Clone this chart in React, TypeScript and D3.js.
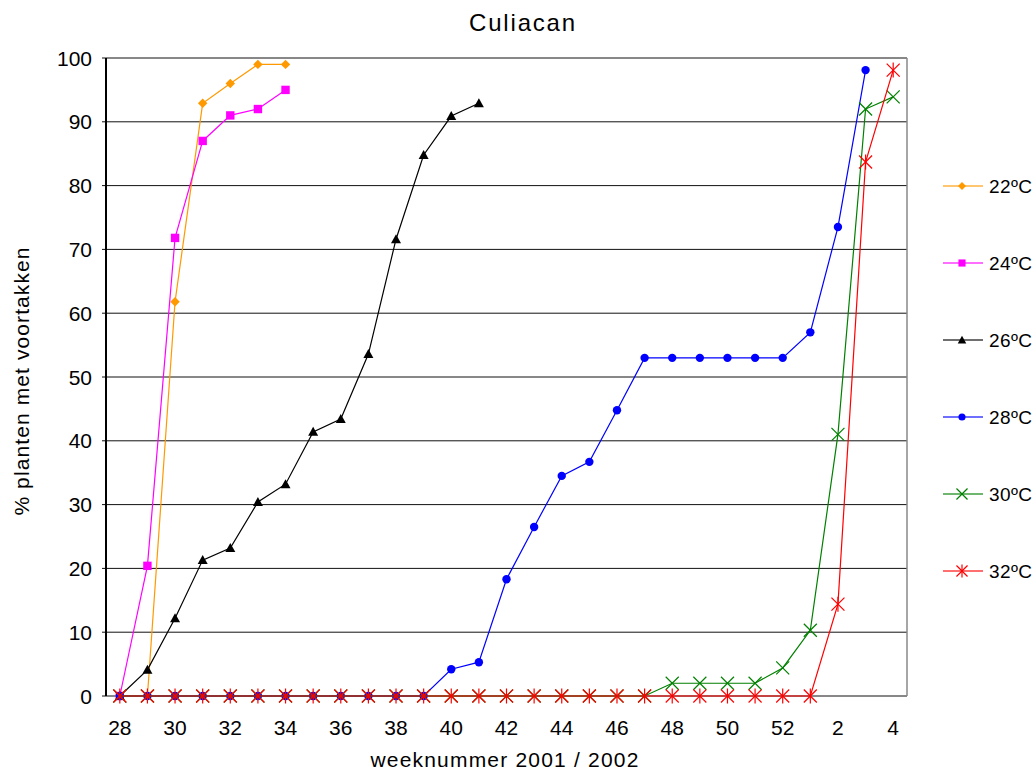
import React from 'react';
import * as d3 from 'd3';

const width = 1036;
const height = 774;
const plotLeft = 106;
const plotRight = 907;
const plotTop = 58;
const plotBottom = 696;
const fontFamily = '"Liberation Sans", Arial, sans-serif';

// week numbers, summer 2001 up to week 4 of 2002
const weeks = [
  '28', '29', '30', '31', '32', '33', '34', '35', '36', '37', '38', '39', '40', '41',
  '42', '43', '44', '45', '46', '47', '48', '49', '50', '51', '52', '1', '2', '3', '4',
];
const xTickLabels = ['28', '30', '32', '34', '36', '38', '40', '42', '44', '46', '48', '50', '52', '2', '4'];
const yTicks = [0, 10, 20, 30, 40, 50, 60, 70, 80, 90, 100];

const temp22 = [0, 0, 61.8, 92.9, 96, 99, 99];
const temp24 = [0, 20.4, 71.8, 87, 91, 92, 95];
const temp26 = [0, 4.1, 12.2, 21.3, 23.2, 30.4, 33.2, 41.4, 43.4, 53.6, 71.6, 84.8, 90.9, 92.9];
const temp28 = [
  0, 0, 0, 0, 0, 0, 0, 0, 0, 0, 0, 0, 4.2, 5.3, 18.3, 26.5, 34.5, 36.7, 44.8,
  53, 53, 53, 53, 53, 53, 57, 73.5, 98.1,
];
const temp30 = [
  0, 0, 0, 0, 0, 0, 0, 0, 0, 0, 0, 0, 0, 0, 0, 0, 0, 0, 0, 0,
  2, 2, 2, 2, 4.4, 10.3, 41, 92, 93.9,
];
const temp32 = [
  0, 0, 0, 0, 0, 0, 0, 0, 0, 0, 0, 0, 0, 0, 0, 0, 0, 0, 0, 0,
  0, 0, 0, 0, 0, 0, 14.4, 83.7, 98.1,
];

const seriesNames = ['22ºC', '24ºC', '26ºC', '28ºC', '30ºC', '32ºC'];
const seriesValues = [temp22, temp24, temp26, temp28, temp30, temp32];
const seriesColors = ['#FF9900', '#FF00FF', '#000000', '#0000FF', '#008000', '#FF0000'];
const seriesMarkers = ['diamond', 'square', 'triangle', 'circle', 'x', 'star'];

const x = d3.scaleBand().domain(weeks).range([plotLeft, plotRight]).padding(0);
const y = d3.scaleLinear().domain([0, 100]).range([plotBottom, plotTop]);
const cx = (w) => x(w) + x.bandwidth() / 2;

const Marker = ({ type, color, px, py, s = 1 }) => {
  const t = `translate(${px},${py})`;
  if (type === 'diamond') {
    const r = 4.7 * s;
    return <path transform={t} d={`M0,${-r}L${r},0L0,${r}L${-r},0Z`} fill={color} />;
  }
  if (type === 'square') {
    const r = 4.2 * s;
    return <rect x={px - r} y={py - r} width={2 * r} height={2 * r} fill={color} />;
  }
  if (type === 'triangle') {
    const r = 5 * s;
    return <path transform={t} d={`M0,${-r}L${r},${r * 0.8}L${-r},${r * 0.8}Z`} fill={color} />;
  }
  if (type === 'circle') {
    return <circle cx={px} cy={py} r={4.2 * s} fill={color} />;
  }
  const r = 6.5 * s;
  return (
    <g transform={t} stroke={color} strokeWidth={1.2} fill="none">
      <line x1={-r} y1={-r} x2={r} y2={r} />
      <line x1={-r} y1={r} x2={r} y2={-r} />
      {type === 'star' && <line x1={0} y1={-r - 1} x2={0} y2={r + 1} />}
    </g>
  );
};

const line = d3.line()
  .x((d) => cx(d.week))
  .y((d) => y(d.value));

const App = () => (
  <svg
    width={width}
    height={height}
    style={{ position: 'absolute', left: 0, top: 0, background: '#fff' }}
    fontFamily={fontFamily}
  >
    <text x={523} y={31} textAnchor="middle" fontSize={24} letterSpacing={1.8} fill="#000">
      Culiacan
    </text>

    {/* grid lines and y ticks */}
    {yTicks.map((t) => (
      <g key={t}>
        <line x1={plotLeft - 4} x2={plotRight} y1={y(t)} y2={y(t)} stroke="#111" strokeWidth={1} />
        <text
          x={92}
          y={y(t)}
          dy="0.36em"
          textAnchor="end"
          fontSize={21}
          fill="#000"
        >
          {t}
        </text>
      </g>
    ))}
    <line x1={plotRight} x2={plotRight} y1={plotTop} y2={plotBottom} stroke="#888" strokeWidth={1.5} />
    <line x1={plotLeft} x2={plotLeft} y1={plotTop} y2={plotBottom} stroke="#000" strokeWidth={2} />

    {/* x labels */}
    {xTickLabels.map((w) => (
      <text
        key={w}
        x={cx(w)}
        y={735}
        textAnchor="middle"
        fontSize={21}
        fill="#000"
      >
        {w}
      </text>
    ))}
    <text x={505} y={767} textAnchor="middle" fontSize={21} letterSpacing={1.2} fill="#000">
      weeknummer 2001 / 2002
    </text>
    <text
      transform={`translate(29,${381}) rotate(-90)`}
      textAnchor="middle"
      fontSize={21}
      letterSpacing={1.1}
      fill="#000"
    >
      % planten met voortakken
    </text>

    {/* series */}
    {seriesValues.map((vals, i) => {
      const pts = vals.map((v, j) => ({ week: weeks[j], value: v }));
      return (
        <g key={seriesNames[i]}>
          <path d={line(pts)} fill="none" stroke={seriesColors[i]} strokeWidth={1.2} />
          {pts.map((p) => (
            <Marker
              key={p.week}
              type={seriesMarkers[i]}
              color={seriesColors[i]}
              px={cx(p.week)}
              py={y(p.value)}
            />
          ))}
        </g>
      );
    })}

    {/* legend */}
    {seriesNames.map((name, i) => {
      const ly = 186 + i * 77;
      return (
        <g key={name}>
          <line x1={943} x2={983} y1={ly} y2={ly} stroke={seriesColors[i]} strokeWidth={1.5} opacity={0.75} />
          <Marker type={seriesMarkers[i]} color={seriesColors[i]} px={962} py={ly} s={0.85} />
          <text x={989} y={ly} dy="0.36em" fontSize={19} letterSpacing={0.4} fill="#000">
            {name}
          </text>
        </g>
      );
    })}
  </svg>
);

export default App;
